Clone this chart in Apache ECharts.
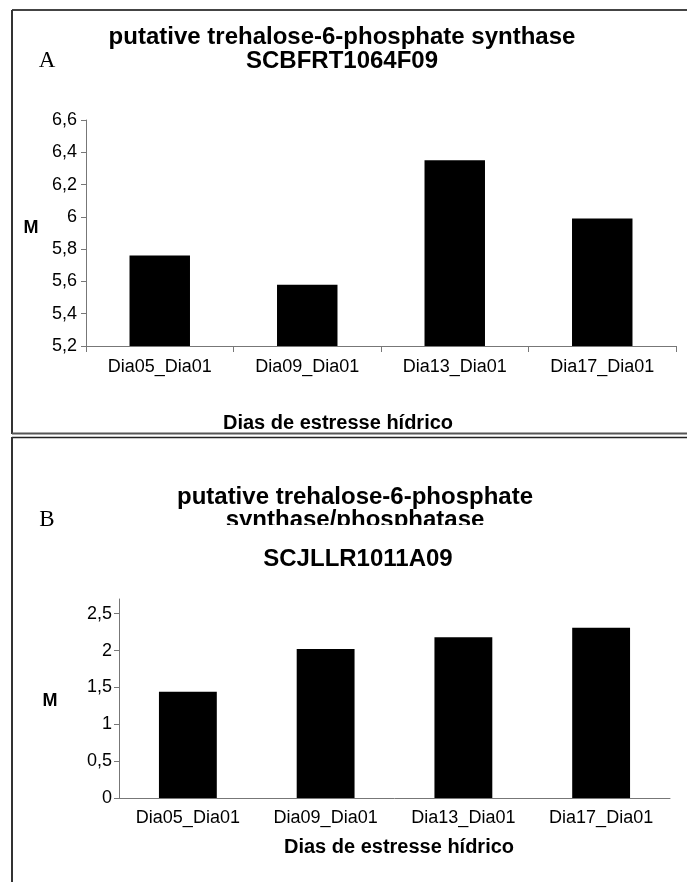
<!DOCTYPE html>
<html>
<head>
<meta charset="utf-8">
<script src="https://cdn.jsdelivr.net/npm/echarts@6/dist/echarts.min.js"></script>
<style>
html,body{margin:0;padding:0;background:#fff;}
#c{width:687px;height:882px;}
</style>
</head>
<body>
<div id="c"></div>
<script>
const categories = ['Dia05_Dia01', 'Dia09_Dia01', 'Dia13_Dia01', 'Dia17_Dia01'];
const valuesA = [5.76, 5.58, 6.35, 5.99];
const valuesB = [1.44, 2.02, 2.18, 2.31];
const ticksB = [0, 0.5, 1, 1.5, 2, 2.5];
const titleA = ['putative trehalose-6-phosphate synthase', 'SCBFRT1064F09'];
const titleB = ['putative trehalose-6-phosphate', 'synthase/phosphatase', 'SCJLLR1011A09'];
const xName = 'Dias de estresse hídrico';
const yName = 'M';

const FONT = '"Liberation Sans", Arial, Helvetica, sans-serif';
const AXC = '#777';
const fmt = v => String(+(+v).toFixed(2)).replace('.', ',');

const chart = echarts.init(document.getElementById('c'), null, {renderer: 'canvas'});

function txt(text, x, y, size, bold, extra) {
  return Object.assign({
    type: 'text', x: x, y: y, z: 10,
    style: {text: text, fontSize: size, fontWeight: bold ? 'bold' : 'normal',
      fontFamily: FONT, fill: '#000', align: 'center', verticalAlign: 'middle'}
  }, extra || {});
}
function line(x1, y1, x2, y2, w, c) {
  return {type: 'line', z: 20, shape: {x1: x1, y1: y1, x2: x2, y2: y2},
    style: {stroke: c, lineWidth: w}};
}

const option = {
  backgroundColor: '#fff',
  animation: false,
  grid: [
    {left: 86, top: 120, width: 590, height: 226, containLabel: false},
    {left: 119, top: 599, width: 551, height: 199, containLabel: false}
  ],
  xAxis: [
    {type: 'category', gridIndex: 0, data: categories,
      axisLine: {lineStyle: {color: AXC, width: 1}},
      axisTick: {show: true, length: 6, alignWithLabel: false, lineStyle: {color: AXC}},
      axisLabel: {fontSize: 18, fontFamily: FONT, color: '#000', margin: 12, interval: 0}},
    {type: 'category', gridIndex: 1, data: categories,
      axisLine: {lineStyle: {color: AXC, width: 1}},
      axisTick: {show: false},
      axisLabel: {fontSize: 18, fontFamily: FONT, color: '#000', margin: 11, interval: 0}}
  ],
  yAxis: [
    {type: 'value', gridIndex: 0, min: 5.2, max: 6.6, interval: 0.2,
      splitLine: {show: false},
      axisLine: {show: true, lineStyle: {color: AXC, width: 1}},
      axisTick: {show: true, length: 5, lineStyle: {color: AXC}},
      axisLabel: {fontSize: 18, fontFamily: FONT, color: '#000', margin: 9, formatter: fmt}},
    {type: 'value', gridIndex: 1, min: 0, max: 2.7, interval: 0.5,
      splitLine: {show: false},
      axisLine: {show: true, lineStyle: {color: AXC, width: 1}},
      axisTick: {show: true, length: 5, customValues: ticksB, lineStyle: {color: AXC}},
      axisLabel: {fontSize: 18, fontFamily: FONT, color: '#000', margin: 7, customValues: ticksB, formatter: fmt}}
  ],
  series: [
    {type: 'bar', xAxisIndex: 0, yAxisIndex: 0, data: valuesA, barWidth: '41%',
      itemStyle: {color: '#000'}},
    {type: 'bar', xAxisIndex: 1, yAxisIndex: 1, data: valuesB, barWidth: '42%',
      itemStyle: {color: '#000'}}
  ],
  graphic: [
    // frames
    line(12, 10, 687, 10, 2, '#444'),
    line(12, 10, 12, 434, 2, '#333'),
    line(12, 433.5, 687, 433.5, 2, '#555'),
    line(12, 437.5, 687, 437.5, 1.5, '#222'),
    line(12, 437, 12, 882, 2, '#333'),
    // chart A texts
    txt(titleA[0], 342, 37, 24, true),
    txt(titleA[1], 342, 61, 24, true),
    txt('A', 47, 61, 23, false, {style: {text: 'A', fontSize: 23, fontFamily: '"Liberation Serif", "Times New Roman", serif', fill: '#000', align: 'center', verticalAlign: 'middle'}}),
    txt(yName, 31, 228, 18, true),
    txt(xName, 338, 423, 20, true),
    // chart B texts
    txt(titleB[0], 355, 497, 24, true),
    txt(titleB[1], 355, 520, 24, true),
    {type: 'rect', z: 15, shape: {x: 200, y: 525, width: 320, height: 22}, style: {fill: '#fff'}},
    txt(titleB[2], 358, 559, 24, true),
    txt('B', 47, 520, 23, false, {style: {text: 'B', fontSize: 23, fontFamily: '"Liberation Serif", "Times New Roman", serif', fill: '#000', align: 'center', verticalAlign: 'middle'}}),
    txt(yName, 50, 701, 18, true),
    txt(xName, 399, 847, 20, true)
  ]
};
chart.setOption(option);
</script>
</body>
</html>
